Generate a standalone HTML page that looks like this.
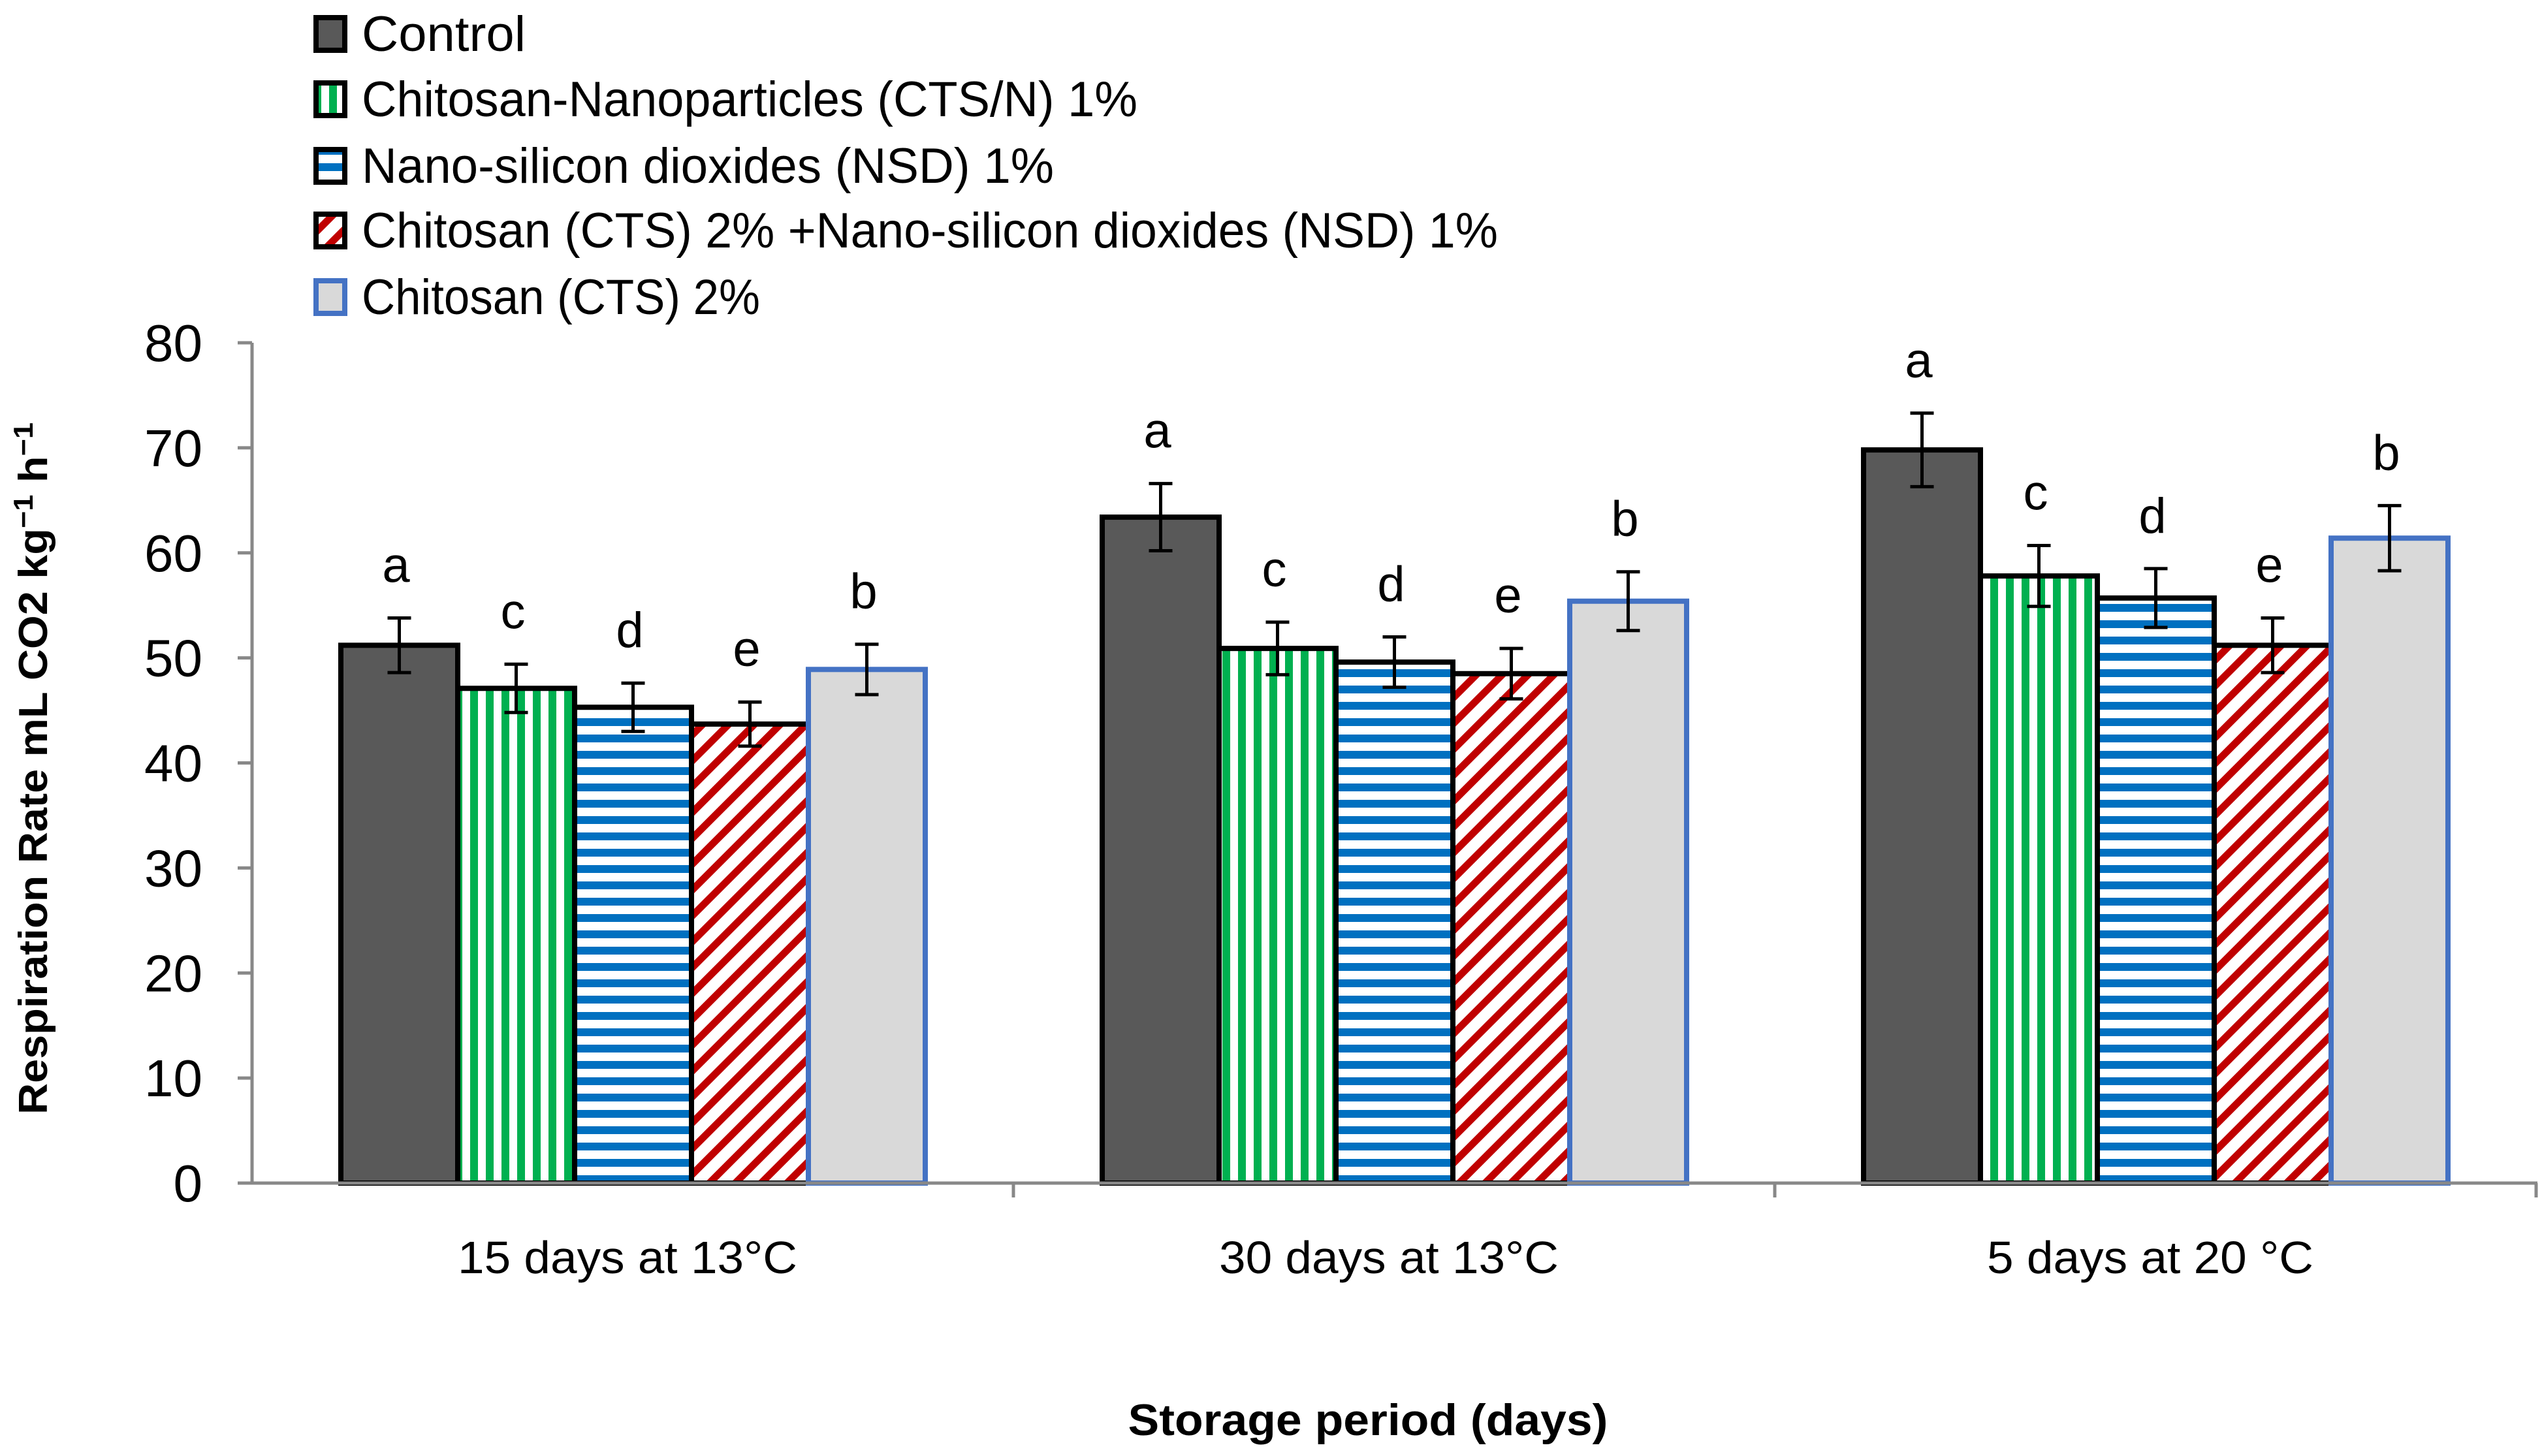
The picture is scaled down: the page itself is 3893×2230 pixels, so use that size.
<!DOCTYPE html>
<html><head><meta charset="utf-8"><style>
html,body{margin:0;padding:0;background:#fff;}
svg{display:block;font-family:"Liberation Sans",sans-serif;}
</style></head><body>
<svg id="chart" width="3893" height="2230" viewBox="0 0 3893 2230" xmlns="http://www.w3.org/2000/svg">
<defs>
<pattern id="pGreen" patternUnits="userSpaceOnUse" width="24" height="24"><rect width="24" height="24" fill="#fff"/><rect x="0" y="0" width="12" height="24" fill="#00b050"/></pattern>
<pattern id="pBlue" patternUnits="userSpaceOnUse" width="25" height="25"><rect width="25" height="25" fill="#fff"/><rect x="0" y="0" width="25" height="12" fill="#0070c0"/></pattern>
<pattern id="pRed" patternUnits="userSpaceOnUse" width="28" height="28" patternTransform="rotate(45)"><rect width="28" height="28" fill="#fff"/><rect x="0" y="0" width="11" height="28" fill="#c00000"/></pattern>
</defs>
<g id="plot"></g>
</svg>
<script>
const categories = ["15 days at 13°C", "30 days at 13°C", "5 days at 20 °C"];
const seriesNames = ["Control", "Chitosan-Nanoparticles (CTS/N) 1%", "Nano-silicon dioxides  (NSD) 1%", "Chitosan (CTS) 2% +Nano-silicon dioxides  (NSD) 1%", "Chitosan (CTS) 2%"];
const control = [51.2, 63.4, 69.8];
const ctsN = [47.1, 50.9, 57.8];
const nsd = [45.3, 49.6, 55.7];
const ctsNsd = [43.7, 48.5, 51.2];
const cts = [48.9, 55.4, 61.4];
const controlErr = [2.6, 3.2, 3.5];
const ctsNErr = [2.3, 2.5, 2.9];
const nsdErr = [2.3, 2.4, 2.8];
const ctsNsdErr = [2.1, 2.4, 2.6];
const ctsErr = [2.4, 2.8, 3.1];
const letters = [["a","a","a"],["c","c","c"],["d","d","d"],["e","e","e"],["b","b","b"]];
const yTicks = [0, 10, 20, 30, 40, 50, 60, 70, 80];

const NS = "http://www.w3.org/2000/svg";
const g = document.getElementById("plot");
const X0 = 386, X1 = 3886, Y0 = 1812, Y80 = 525;
const yScale = v => Y0 - (v / 80) * (Y0 - Y80);
const groupW = 1166;
const barW = 179, barOff = 136;
const xBar = (gi, si) => X0 + gi * groupW + barOff + si * barW;
const values = [control, ctsN, nsd, ctsNsd, cts];
const errs = [controlErr, ctsNErr, nsdErr, ctsNsdErr, ctsErr];
const fills = ["#595959", "url(#pGreen)", "url(#pBlue)", "url(#pRed)", "#d9d9d9"];
const strokes = ["#000", "#000", "#000", "#000", "#4472c4"];

function mk(tag, attrs, parent) {
  const e = document.createElementNS(NS, tag);
  for (const k in attrs) e.setAttribute(k, attrs[k]);
  (parent || g).appendChild(e);
  return e;
}

yTicks.forEach(t => {
  const y = yScale(t);
  const tk = mk("line", {x1: X0 - 22, x2: X0, y1: y, y2: y, stroke: "#888", "stroke-width": 5});
  
  
  const lb = mk("text", {x: 310, y: y + 28, "text-anchor": "end", "font-size": 80, fill: "#000"});
  lb.textContent = t;
  
  
});

values.forEach((arr, si) => {
  arr.forEach((v, gi) => {
    const x = xBar(gi, si), y = yScale(v);
    const r = mk("rect", {x: x, y: y, width: barW, height: Y0 - y, fill: fills[si], stroke: strokes[si], "stroke-width": 8});
    
    
  });
});

const ax = mk("line", {x1: X0, x2: X1, y1: Y0, y2: Y0, stroke: "#888", "stroke-width": 5});


const ay = mk("line", {x1: X0, x2: X0, y1: Y80, y2: Y0, stroke: "#888", "stroke-width": 5});


for (let i = 1; i <= categories.length; i++) {
  const x = Math.min(X0 + i * groupW, X1);
  const t = mk("line", {x1: x, x2: x, y1: Y0, y2: Y0 + 22, stroke: "#888", "stroke-width": 5});
  
  
}
const catW = [520, 520, 500];
categories.forEach((c, gi) => {
  const t = mk("text", {x: X0 + gi * groupW + groupW / 2 - 8, y: 1950, "text-anchor": "middle", "font-size": 70, fill: "#000", textLength: catW[gi], lengthAdjust: "spacingAndGlyphs"});
  t.textContent = c;
  
  
});

values.forEach((arr, si) => {
  arr.forEach((v, gi) => {
    const cx = xBar(gi, si) + barW / 2;
    const e = errs[si][gi];
    const yt = yScale(v + e), yb = yScale(v - e);
    const eg = mk("g", {stroke: "#000", "stroke-width": 5});
    
    
    mk("line", {x1: cx, x2: cx, y1: yt, y2: yb}, eg);
    mk("line", {x1: cx - 18, x2: cx + 18, y1: yt, y2: yt}, eg);
    mk("line", {x1: cx - 18, x2: cx + 18, y1: yb, y2: yb}, eg);
    const lt = mk("text", {x: cx - 5, y: yt - 55, "text-anchor": "middle", "font-size": 76, fill: "#000"});
    lt.textContent = letters[si][gi];
    
    
  });
});

const legendY = [52, 152, 254, 353, 455];
const legendW = [251, 1188, 1060, 1740, 610];
seriesNames.forEach((n, si) => {
  const lg = mk("g", {});
  
  
  mk("rect", {x: 484, y: legendY[si] - 25, width: 44, height: 50, fill: fills[si], stroke: strokes[si], "stroke-width": 8}, lg);
  const t = mk("text", {x: 554, y: legendY[si] + 26, "font-size": 76, fill: "#000", textLength: legendW[si], lengthAdjust: "spacingAndGlyphs"}, lg);
  t.textContent = n;
});

const yt = mk("text", {x: 0, y: 0, transform: "translate(72,1177) rotate(-90)", "text-anchor": "middle", "font-size": 62, "font-weight": "bold", fill: "#000", textLength: 1060, lengthAdjust: "spacingAndGlyphs"});
yt.innerHTML = 'Respiration Rate mL CO2 kg<tspan dy="-22" font-size="42">−1</tspan><tspan dy="22"> h</tspan><tspan dy="-22" font-size="42">−1</tspan>';


const xt = mk("text", {x: 2095, y: 2198, "text-anchor": "middle", "font-size": 68, "font-weight": "bold", fill: "#000", textLength: 735, lengthAdjust: "spacingAndGlyphs"});
xt.textContent = "Storage period (days)";


</script>
</body></html>
